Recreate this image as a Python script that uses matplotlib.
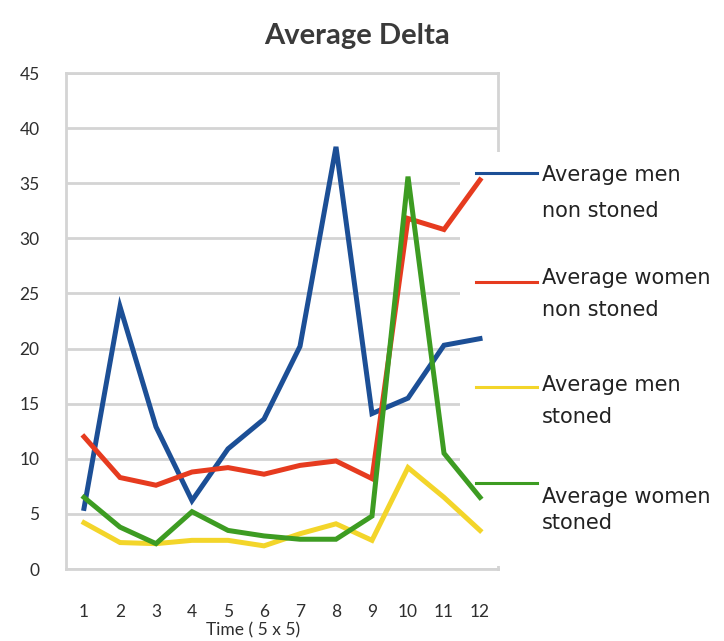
import numpy as np
import matplotlib.pyplot as plt
from matplotlib.lines import Line2D
from matplotlib.patches import Rectangle

# averages per time step
time = np.arange(1, 13)
men_non_stoned = [5.5, 23.8, 12.9, 6.2, 10.9, 13.6, 20.2, 38.3, 14.1, 15.5, 20.3, 20.9]
women_non_stoned = [12.0, 8.3, 7.6, 8.8, 9.2, 8.6, 9.4, 9.8, 8.2, 31.8, 30.8, 35.3]
men_stoned = [4.2, 2.4, 2.3, 2.6, 2.6, 2.1, 3.2, 4.1, 2.6, 9.2, 6.5, 3.5]
women_stoned = [6.5, 3.8, 2.3, 5.2, 3.5, 3.0, 2.7, 2.7, 4.8, 35.6, 10.5, 6.5]

series = [
    (men_non_stoned, '#1c4f96', ['Average men', 'non stoned']),
    (women_non_stoned, '#e63b1f', ['Average women', 'non stoned']),
    (men_stoned, '#f3d52a', ['Average men', 'stoned']),
    (women_stoned, '#3d9c22', ['Average women', 'stoned']),
]

W, H = 724, 641
fig = plt.figure(figsize=(W / 100, H / 100), dpi=100)
ax = fig.add_axes([66 / W, 1 - 569 / H, (498 - 66) / W, (569 - 73) / H])

for vals, col, lab in series:
    ax.plot(time, vals, color=col, lw=3.6, solid_joinstyle='miter', zorder=4)

ax.set_xlim(0.5, 12.5)
ax.set_ylim(0, 45)
ax.set_xticks(time)
ax.set_yticks(np.arange(0, 46, 5))
ax.tick_params(length=0, labelsize=12.5, colors='#2e2e2e')
ax.tick_params(axis='y', pad=19)
ax.tick_params(axis='x', pad=25)
for t in ax.get_xticklabels() + ax.get_yticklabels():
    t.set_family('Lato')
ax.grid(axis='y', color='#d4d4d4', lw=2)
ax.set_axisbelow(True)
for s in ax.spines.values():
    s.set_color('#d4d4d4')
    s.set_linewidth(2)

# white legend panel sitting over the right edge of the grid
ax.add_patch(Rectangle((460 / W, 1 - 566 / H), 50 / W, (566 - 152) / H,
                       transform=fig.transFigure, facecolor='white',
                       edgecolor='none', clip_on=False, zorder=3))

fig.text(357 / W, 1 - 36 / H, 'Average Delta', ha='center', va='center',
         fontsize=21, family='Lato', weight='bold', color='#3a3a3a')
fig.text(253 / W, 1 - 630 / H, 'Time ( 5 x 5)', ha='center', va='center',
         fontsize=12.5, family='Lato', color='#2e2e2e')

# legend entries: line y, first text row y, second text row y
legend_rows = [(173, 175, 211), (282, 278, 310), (387, 385, 417), (483, 497, 523)]
for (vals, col, lab), (ly, t1, t2) in zip(series, legend_rows):
    fig.add_artist(Line2D([476 / W, 537 / W], [1 - ly / H, 1 - ly / H],
                          color=col, lw=2.2, transform=fig.transFigure))
    for txt, ty in zip(lab, (t1, t2)):
        fig.text(542 / W, 1 - ty / H, txt, ha='left', va='center',
                 fontsize=15, family='DejaVu Sans', color='#222222')

fig.savefig('out.png', dpi=100, facecolor='white')
